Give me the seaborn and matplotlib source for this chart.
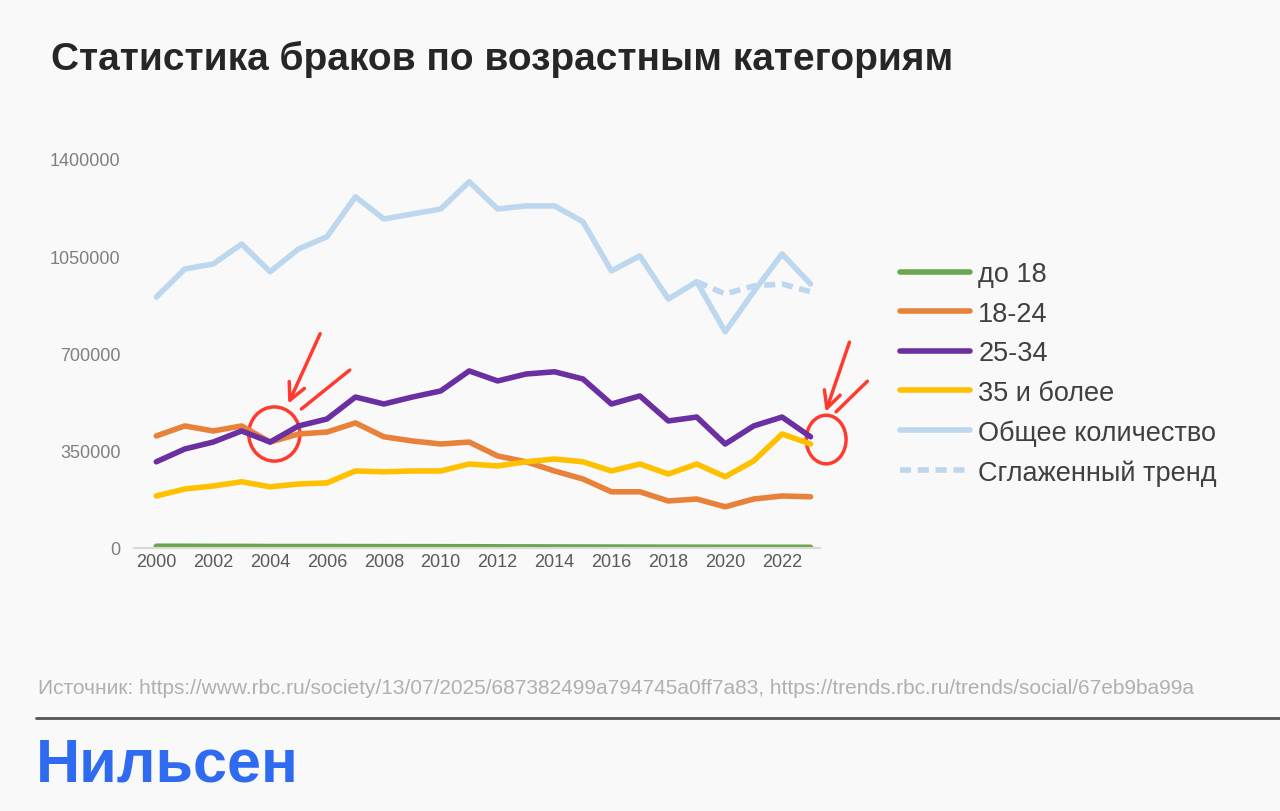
import numpy as np
import pandas as pd
import seaborn as sns
from matplotlib import pyplot as plt
from matplotlib.patches import Ellipse

years = list(range(2000, 2024))
under_18 = [6000, 6000, 5500, 5500, 5000, 5000, 5000, 4800, 4600, 4500, 4400, 4300, 4000, 3800, 3600, 3400, 3200, 3000, 2800, 2700, 2500, 2500, 2400, 2300]
age_18_24 = [403000, 439000, 421000, 439000, 381000, 410000, 417000, 450000, 400000, 385000, 374000, 381000, 331000, 310000, 277000, 248000, 202000, 202000, 169000, 176000, 148000, 176000, 187000, 184000]
age_25_34 = [310000, 356000, 381000, 421000, 381000, 439000, 464000, 543000, 518000, 543000, 565000, 637000, 601000, 626000, 634000, 608000, 518000, 547000, 457000, 471000, 374000, 439000, 471000, 400000]
age_35_plus = [187000, 212000, 223000, 238000, 220000, 230000, 234000, 277000, 274000, 277000, 277000, 302000, 295000, 310000, 320000, 310000, 277000, 302000, 266000, 302000, 256000, 313000, 410000, 374000]
total = [903000, 1004000, 1022000, 1094000, 994000, 1076000, 1120000, 1264000, 1184000, 1202000, 1220000, 1318000, 1220000, 1231000, 1231000, 1174000, 997000, 1051000, 896000, 958000, 778000, 922000, 1058000, 950000]
trend_years = [2019, 2020, 2021, 2022, 2023]
trend = [958000, 914000, 943000, 950000, 922000]

series = [("до 18", under_18, "#6aa84f"),
          ("18-24", age_18_24, "#e8813a"),
          ("25-34", age_25_34, "#6a2fa0"),
          ("35 и более", age_35_plus, "#ffc000"),
          ("Общее количество", total, "#bdd7ee")]

sns.set_style("white")
plt.rcParams['font.family'] = ['Liberation Sans', 'DejaVu Sans']

bg = "#f9f9f9"
fig = plt.figure(figsize=(12.8, 8.12), dpi=100, facecolor=bg)
ax = fig.add_axes([0.105, 0.324, 0.536, 0.479], facecolor=bg)

for name, vals, col in series:
    sns.lineplot(x=years, y=vals, ax=ax, color=col, linewidth=4, label=name)
sns.lineplot(x=trend_years, y=trend, ax=ax, color="#bdd7ee", linewidth=4,
             linestyle=(0, (2, 1.2)), label="Сглаженный тренд")

ax.set_xlim(1999.23, 2023.35)
ax.set_ylim(0, 1400000)
ax.set_yticks([0, 350000, 700000, 1050000, 1400000])
ax.set_yticklabels(["0", "350000", "700000", "1050000", "1400000"])
ax.set_xticks(range(2000, 2024, 2))
ax.tick_params(axis='y', labelsize=13, colors="#7f7f7f", length=0, pad=10)
ax.tick_params(axis='x', labelsize=13, colors="#595959", length=0)
for s in ["top", "right", "left"]:
    ax.spines[s].set_visible(False)
ax.spines["bottom"].set_color("#d9d9d9")
ax.spines["bottom"].set_linewidth(1.5)

leg = ax.legend(loc="upper left", bbox_to_anchor=(1.08, 0.8), frameon=False,
                fontsize=19.5, handlelength=2.6, labelspacing=0.5, labelcolor="#404040",
                handletextpad=0.3)

# hand-drawn red marks
ax.add_patch(Ellipse((2004.15, 410000), 1.8, 195000, fill=False, ec="#ff3b30", lw=2.5))
ax.add_patch(Ellipse((2023.55, 390000), 1.4, 175000, fill=False, ec="#ff3b30", lw=2.5, clip_on=False))
ax.annotate("", xy=(2004.6, 510000), xytext=(2005.8, 780000),
            arrowprops=dict(arrowstyle="->", color="#ff3b30", lw=2.5, mutation_scale=30))
ax.plot([2005.1, 2006.8], [500000, 640000], color="#ff3b30", lw=2.5)
ax.annotate("", xy=(2023.5, 480000), xytext=(2024.4, 750000), annotation_clip=False,
            arrowprops=dict(arrowstyle="->", color="#ff3b30", lw=2.5, mutation_scale=30))
ax.plot([2023.9, 2025.0], [490000, 600000], color="#ff3b30", lw=2.5, clip_on=False)

fig.text(0.04, 0.927, "Статистика браков по возрастным категориям", fontsize=28,
         fontweight="bold", color="#262626", va="center")
fig.text(0.03, 0.152, "Источник: https://www.rbc.ru/society/13/07/2025/687382499a794745a0ff7a83, "
         "https://trends.rbc.ru/trends/social/67eb9ba99a", fontsize=15, color="#b0b0b0", va="center")
fig.add_artist(plt.Line2D([0.028, 1.0], [0.115, 0.115], color="#555555", lw=2))
fig.text(0.028, 0.057, "Нильсен", fontsize=44, fontweight="bold", color="#2f6bf0", va="center")

fig.savefig("out.png", dpi=100, facecolor=bg)
